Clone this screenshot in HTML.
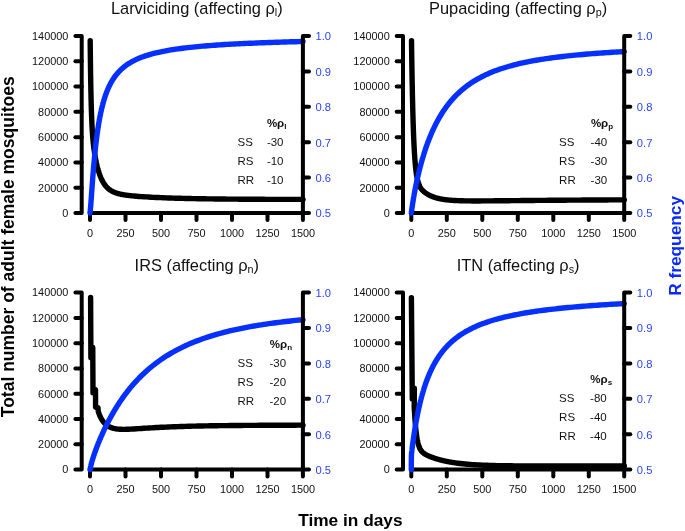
<!DOCTYPE html>
<html><head><meta charset="utf-8"><style>
html,body{margin:0;padding:0;background:#fff;}
svg{display:block;}
text{font-family:"Liberation Sans",sans-serif;}
</style></head><body>
<svg style="will-change:transform" width="685" height="531" viewBox="0 0 685 531" font-family="Liberation Sans, sans-serif">
<rect width="685" height="531" fill="#fff"/>
<g fill="none" stroke="#000" stroke-width="4.0" stroke-linecap="round" stroke-linejoin="round">
<path d="M75.4,36 H81.7 V213 H75.4"/>
<path d="M75.4,61.29 H81.7"/>
<path d="M75.4,86.57 H81.7"/>
<path d="M75.4,111.86 H81.7"/>
<path d="M75.4,137.14 H81.7"/>
<path d="M75.4,162.43 H81.7"/>
<path d="M75.4,187.71 H81.7"/>
<path d="M90,220 V213 H303"/>
<path d="M125.5,213 V220"/>
<path d="M161,213 V220"/>
<path d="M196.5,213 V220"/>
<path d="M232,213 V220"/>
<path d="M267.5,213 V220"/>
</g>
<g font-size="10.9" fill="#111" text-anchor="end">
<text x="68.4" y="216.8">0</text>
<text x="68.4" y="191.51">20000</text>
<text x="68.4" y="166.23">40000</text>
<text x="68.4" y="140.94">60000</text>
<text x="68.4" y="115.66">80000</text>
<text x="68.4" y="90.37">100000</text>
<text x="68.4" y="65.09">120000</text>
<text x="68.4" y="39.8">140000</text>
</g>
<g font-size="10.9" fill="#111" text-anchor="middle">
<text x="90" y="237">0</text>
<text x="125.5" y="237">250</text>
<text x="161" y="237">500</text>
<text x="196.5" y="237">750</text>
<text x="232" y="237">1000</text>
<text x="267.5" y="237">1250</text>
<text x="303" y="237">1500</text>
</g>
<g font-size="11.2" fill="#2a44ff">
<text x="315.5" y="217.3">0.5</text>
<text x="315.5" y="181.9">0.6</text>
<text x="315.5" y="146.5">0.7</text>
<text x="315.5" y="111.1">0.8</text>
<text x="315.5" y="75.7">0.9</text>
<text x="315.5" y="40.3">1.0</text>
</g>
<text x="196.8" y="13.9" font-size="16.4" text-anchor="middle" fill="#111">Larviciding (affecting &#961;<tspan font-size="10.824" dy="2.3">l</tspan><tspan dy="-2.3">)</tspan></text>
<text x="266.9" y="127.4" font-size="11.5" font-weight="bold" fill="#111">%&#961;<tspan font-size="8.049999999999999" dy="2">l</tspan></text>
<text x="237.5" y="145.8" font-size="11.5" fill="#111">SS</text>
<text x="266.9" y="145.8" font-size="11.5" fill="#111">-30</text>
<text x="237.5" y="164.5" font-size="11.5" fill="#111">RS</text>
<text x="266.9" y="164.5" font-size="11.5" fill="#111">-10</text>
<text x="237.5" y="183.7" font-size="11.5" fill="#111">RR</text>
<text x="266.9" y="183.7" font-size="11.5" fill="#111">-10</text>
<g fill="none" stroke="#000" stroke-width="4.0" stroke-linecap="round" stroke-linejoin="round">
<path d="M396.7,36 H403 V213 H396.7"/>
<path d="M396.7,61.29 H403"/>
<path d="M396.7,86.57 H403"/>
<path d="M396.7,111.86 H403"/>
<path d="M396.7,137.14 H403"/>
<path d="M396.7,162.43 H403"/>
<path d="M396.7,187.71 H403"/>
<path d="M411.3,220 V213 H624.3"/>
<path d="M446.8,213 V220"/>
<path d="M482.3,213 V220"/>
<path d="M517.8,213 V220"/>
<path d="M553.3,213 V220"/>
<path d="M588.8,213 V220"/>
</g>
<g font-size="10.9" fill="#111" text-anchor="end">
<text x="389.7" y="216.8">0</text>
<text x="389.7" y="191.51">20000</text>
<text x="389.7" y="166.23">40000</text>
<text x="389.7" y="140.94">60000</text>
<text x="389.7" y="115.66">80000</text>
<text x="389.7" y="90.37">100000</text>
<text x="389.7" y="65.09">120000</text>
<text x="389.7" y="39.8">140000</text>
</g>
<g font-size="10.9" fill="#111" text-anchor="middle">
<text x="411.3" y="237">0</text>
<text x="446.8" y="237">250</text>
<text x="482.3" y="237">500</text>
<text x="517.8" y="237">750</text>
<text x="553.3" y="237">1000</text>
<text x="588.8" y="237">1250</text>
<text x="624.3" y="237">1500</text>
</g>
<g font-size="11.2" fill="#2a44ff">
<text x="636.8" y="217.3">0.5</text>
<text x="636.8" y="181.9">0.6</text>
<text x="636.8" y="146.5">0.7</text>
<text x="636.8" y="111.1">0.8</text>
<text x="636.8" y="75.7">0.9</text>
<text x="636.8" y="40.3">1.0</text>
</g>
<text x="518.1" y="13.9" font-size="16.4" text-anchor="middle" fill="#111">Pupaciding (affecting &#961;<tspan font-size="10.824" dy="2.3">p</tspan><tspan dy="-2.3">)</tspan></text>
<text x="590.9" y="127.4" font-size="11.5" font-weight="bold" fill="#111">%&#961;<tspan font-size="8.049999999999999" dy="2">p</tspan></text>
<text x="559.1" y="145.8" font-size="11.5" fill="#111">SS</text>
<text x="590.6" y="145.8" font-size="11.5" fill="#111">-40</text>
<text x="559.1" y="164.5" font-size="11.5" fill="#111">RS</text>
<text x="590.6" y="164.5" font-size="11.5" fill="#111">-30</text>
<text x="559.1" y="183.7" font-size="11.5" fill="#111">RR</text>
<text x="590.6" y="183.7" font-size="11.5" fill="#111">-30</text>
<g fill="none" stroke="#000" stroke-width="4.0" stroke-linecap="round" stroke-linejoin="round">
<path d="M75.4,292.6 H81.7 V469.6 H75.4"/>
<path d="M75.4,317.89 H81.7"/>
<path d="M75.4,343.17 H81.7"/>
<path d="M75.4,368.46 H81.7"/>
<path d="M75.4,393.74 H81.7"/>
<path d="M75.4,419.03 H81.7"/>
<path d="M75.4,444.31 H81.7"/>
<path d="M90,476.6 V469.6 H303"/>
<path d="M125.5,469.6 V476.6"/>
<path d="M161,469.6 V476.6"/>
<path d="M196.5,469.6 V476.6"/>
<path d="M232,469.6 V476.6"/>
<path d="M267.5,469.6 V476.6"/>
</g>
<g font-size="10.9" fill="#111" text-anchor="end">
<text x="68.4" y="473.4">0</text>
<text x="68.4" y="448.11">20000</text>
<text x="68.4" y="422.83">40000</text>
<text x="68.4" y="397.54">60000</text>
<text x="68.4" y="372.26">80000</text>
<text x="68.4" y="346.97">100000</text>
<text x="68.4" y="321.69">120000</text>
<text x="68.4" y="296.4">140000</text>
</g>
<g font-size="10.9" fill="#111" text-anchor="middle">
<text x="90" y="492.9">0</text>
<text x="125.5" y="492.9">250</text>
<text x="161" y="492.9">500</text>
<text x="196.5" y="492.9">750</text>
<text x="232" y="492.9">1000</text>
<text x="267.5" y="492.9">1250</text>
<text x="303" y="492.9">1500</text>
</g>
<g font-size="11.2" fill="#2a44ff">
<text x="315.5" y="473.9">0.5</text>
<text x="315.5" y="438.5">0.6</text>
<text x="315.5" y="403.1">0.7</text>
<text x="315.5" y="367.7">0.8</text>
<text x="315.5" y="332.3">0.9</text>
<text x="315.5" y="296.9">1.0</text>
</g>
<text x="196.8" y="270.5" font-size="16.4" text-anchor="middle" fill="#111">IRS (affecting &#961;<tspan font-size="10.824" dy="2.3">n</tspan><tspan dy="-2.3">)</tspan></text>
<text x="269.8" y="348.4" font-size="11.5" font-weight="bold" fill="#111">%&#961;<tspan font-size="8.049999999999999" dy="2">n</tspan></text>
<text x="237.5" y="367.1" font-size="11.5" fill="#111">SS</text>
<text x="269.5" y="367.1" font-size="11.5" fill="#111">-30</text>
<text x="237.5" y="386" font-size="11.5" fill="#111">RS</text>
<text x="269.5" y="386" font-size="11.5" fill="#111">-20</text>
<text x="237.5" y="404.9" font-size="11.5" fill="#111">RR</text>
<text x="269.5" y="404.9" font-size="11.5" fill="#111">-20</text>
<g fill="none" stroke="#000" stroke-width="4.0" stroke-linecap="round" stroke-linejoin="round">
<path d="M396.7,292.6 H403 V469.6 H396.7"/>
<path d="M396.7,317.89 H403"/>
<path d="M396.7,343.17 H403"/>
<path d="M396.7,368.46 H403"/>
<path d="M396.7,393.74 H403"/>
<path d="M396.7,419.03 H403"/>
<path d="M396.7,444.31 H403"/>
<path d="M411.3,476.6 V469.6 H624.3"/>
<path d="M446.8,469.6 V476.6"/>
<path d="M482.3,469.6 V476.6"/>
<path d="M517.8,469.6 V476.6"/>
<path d="M553.3,469.6 V476.6"/>
<path d="M588.8,469.6 V476.6"/>
</g>
<g font-size="10.9" fill="#111" text-anchor="end">
<text x="389.7" y="473.4">0</text>
<text x="389.7" y="448.11">20000</text>
<text x="389.7" y="422.83">40000</text>
<text x="389.7" y="397.54">60000</text>
<text x="389.7" y="372.26">80000</text>
<text x="389.7" y="346.97">100000</text>
<text x="389.7" y="321.69">120000</text>
<text x="389.7" y="296.4">140000</text>
</g>
<g font-size="10.9" fill="#111" text-anchor="middle">
<text x="411.3" y="492.9">0</text>
<text x="446.8" y="492.9">250</text>
<text x="482.3" y="492.9">500</text>
<text x="517.8" y="492.9">750</text>
<text x="553.3" y="492.9">1000</text>
<text x="588.8" y="492.9">1250</text>
<text x="624.3" y="492.9">1500</text>
</g>
<g font-size="11.2" fill="#2a44ff">
<text x="636.8" y="473.9">0.5</text>
<text x="636.8" y="438.5">0.6</text>
<text x="636.8" y="403.1">0.7</text>
<text x="636.8" y="367.7">0.8</text>
<text x="636.8" y="332.3">0.9</text>
<text x="636.8" y="296.9">1.0</text>
</g>
<text x="518.1" y="270.5" font-size="16.4" text-anchor="middle" fill="#111">ITN (affecting &#961;<tspan font-size="10.824" dy="2.3">s</tspan><tspan dy="-2.3">)</tspan></text>
<text x="590.3" y="383.2" font-size="11.5" font-weight="bold" fill="#111">%&#961;<tspan font-size="8.049999999999999" dy="2">s</tspan></text>
<text x="559.1" y="402.4" font-size="11.5" fill="#111">SS</text>
<text x="590.1" y="402.4" font-size="11.5" fill="#111">-80</text>
<text x="559.1" y="421.3" font-size="11.5" fill="#111">RS</text>
<text x="590.1" y="421.3" font-size="11.5" fill="#111">-40</text>
<text x="559.1" y="440" font-size="11.5" fill="#111">RR</text>
<text x="590.1" y="440" font-size="11.5" fill="#111">-40</text>
<path d="M90.2,40.6 L90.2,42.38 L90.23,45.07 L90.26,47.69 L90.28,50.23 L90.33,53.91 L90.37,57.44 L90.41,60.82 L90.45,64.06 L90.5,67.17 L90.54,70.15 L90.58,73.01 L90.62,75.75 L90.67,78.39 L90.71,80.92 L90.75,83.34 L90.8,85.67 L90.84,87.91 L90.88,90.07 L90.92,92.14 L90.97,94.13 L91.01,96.04 L91.05,97.88 L91.09,99.65 L91.14,101.36 L91.18,103 L91.22,104.58 L91.26,106.1 L91.31,107.57 L91.35,108.99 L91.39,110.36 L91.43,111.67 L91.48,112.95 L91.52,114.18 L91.56,115.36 L91.6,116.51 L91.65,117.62 L91.69,118.69 L91.73,119.73 L91.78,120.73 L91.82,121.71 L91.86,122.65 L91.9,123.56 L91.95,124.45 L91.99,125.3 L92.03,126.14 L92.07,126.95 L92.12,127.73 L92.16,128.49 L92.2,129.23 L92.24,129.96 L92.29,130.66 L92.33,131.34 L92.37,132 L92.41,132.65 L92.46,133.28 L92.5,133.9 L92.54,134.5 L92.58,135.08 L92.63,135.65 L92.67,136.21 L92.71,136.76 L92.75,137.29 L92.8,137.81 L92.84,138.32 L92.91,139.14 L93.01,140.3 L93.12,141.4 L93.22,142.45 L93.33,143.45 L93.43,144.41 L93.53,145.34 L93.64,146.23 L93.74,147.08 L93.84,147.91 L93.95,148.71 L94.05,149.49 L94.15,150.24 L94.26,150.97 L94.36,151.68 L94.46,152.37 L94.57,153.05 L94.67,153.71 L94.78,154.35 L94.88,154.98 L94.98,155.59 L95.09,156.19 L95.19,156.78 L95.29,157.35 L95.4,157.92 L95.5,158.47 L95.6,159.01 L95.71,159.54 L95.81,160.07 L95.91,160.58 L96.02,161.09 L96.12,161.58 L96.23,162.07 L96.33,162.55 L96.43,163.02 L96.54,163.48 L96.64,163.94 L96.74,164.39 L96.85,164.83 L96.95,165.26 L97.05,165.69 L97.16,166.11 L97.26,166.52 L97.36,166.93 L97.47,167.33 L97.57,167.73 L97.68,168.12 L97.78,168.5 L97.88,168.88 L97.99,169.25 L98.09,169.61 L98.19,169.98 L98.3,170.33 L98.4,170.68 L98.5,171.02 L98.61,171.36 L98.71,171.7 L98.92,172.35 L99.13,172.99 L99.33,173.61 L99.54,174.2 L99.75,174.78 L99.95,175.35 L100.16,175.9 L100.37,176.43 L100.58,176.95 L100.78,177.45 L100.99,177.94 L101.2,178.41 L101.4,178.87 L101.61,179.32 L101.82,179.75 L102.03,180.17 L102.23,180.58 L102.44,180.98 L102.65,181.37 L102.85,181.74 L103.06,182.11 L103.27,182.46 L103.48,182.81 L103.68,183.14 L103.89,183.47 L104.1,183.79 L104.48,184.36 L104.84,184.85 L105.2,185.33 L105.55,185.78 L105.91,186.21 L106.26,186.62 L106.62,187.01 L106.98,187.39 L107.33,187.74 L107.69,188.08 L108.04,188.41 L108.4,188.72 L108.75,189.01 L109.11,189.3 L109.47,189.57 L109.82,189.83 L110.18,190.07 L110.53,190.31 L110.89,190.54 L111.25,190.75 L111.6,190.96 L111.96,191.16 L112.31,191.35 L112.67,191.53 L113.03,191.7 L113.38,191.87 L113.74,192.03 L114.09,192.19 L114.45,192.34 L114.81,192.48 L115.16,192.62 L115.52,192.75 L115.87,192.87 L116.23,193 L116.58,193.11 L116.94,193.23 L117.3,193.33 L117.65,193.44 L118.01,193.54 L118.36,193.64 L118.72,193.73 L119.08,193.82 L119.43,193.91 L119.79,194 L120.14,194.08 L120.5,194.16 L120.86,194.24 L121.21,194.31 L121.57,194.38 L121.92,194.45 L122.28,194.52 L122.63,194.59 L122.99,194.65 L123.35,194.71 L123.7,194.78 L124.06,194.83 L124.41,194.89 L124.77,194.95 L125.13,195 L125.48,195.06 L125.84,195.11 L126.19,195.16 L126.55,195.21 L126.91,195.26 L127.26,195.3 L127.62,195.35 L127.97,195.39 L128.33,195.44 L128.69,195.48 L129.04,195.52 L129.4,195.56 L129.75,195.6 L130.11,195.64 L130.46,195.68 L130.82,195.72 L131.18,195.76 L131.53,195.8 L131.89,195.83 L132.24,195.87 L132.6,195.9 L134.02,196.04 L136.47,196.25 L138.92,196.44 L141.37,196.62 L143.82,196.78 L146.26,196.93 L148.71,197.07 L151.16,197.2 L153.61,197.33 L156.06,197.45 L158.51,197.56 L160.96,197.66 L163.41,197.76 L165.86,197.85 L168.31,197.94 L170.75,198.02 L173.2,198.1 L175.65,198.18 L178.1,198.25 L180.55,198.32 L183,198.38 L185.45,198.44 L187.9,198.5 L190.35,198.55 L192.8,198.6 L195.24,198.65 L197.69,198.69 L200.14,198.74 L202.59,198.78 L205.04,198.82 L207.49,198.85 L209.94,198.89 L212.39,198.92 L214.84,198.95 L217.29,198.98 L219.73,199.01 L222.18,199.04 L224.63,199.06 L227.08,199.08 L229.53,199.11 L231.98,199.13 L234.43,199.15 L236.88,199.17 L239.33,199.19 L241.78,199.2 L244.22,199.22 L246.67,199.23 L249.12,199.25 L251.57,199.26 L254.02,199.27 L256.47,199.29 L258.92,199.3 L261.37,199.31 L263.82,199.32 L266.27,199.33 L268.71,199.34 L271.16,199.35 L273.61,199.36 L276.06,199.36 L278.51,199.37 L280.96,199.38 L283.41,199.39 L285.86,199.39 L288.31,199.4 L290.76,199.4 L293.2,199.41 L295.65,199.41 L298.1,199.42 L300.55,199.42 L303,199.43" fill="none" stroke="#000" stroke-width="5.4" stroke-linecap="round" stroke-linejoin="round"/>
<path d="M90,213 L90.09,212.52 L90.14,212.07 L90.2,211.55 L90.26,211 L90.33,210.25 L90.37,209.78 L90.41,209.3 L90.45,208.81 L90.5,208.3 L90.54,207.78 L90.58,207.26 L90.62,206.72 L90.67,206.18 L90.71,205.64 L90.75,205.08 L90.8,204.52 L90.84,203.96 L90.88,203.39 L90.92,202.82 L90.97,202.24 L91.01,201.66 L91.05,201.08 L91.09,200.5 L91.14,199.91 L91.18,199.32 L91.22,198.73 L91.26,198.14 L91.31,197.55 L91.35,196.95 L91.39,196.36 L91.43,195.76 L91.48,195.17 L91.52,194.57 L91.56,193.98 L91.6,193.38 L91.65,192.79 L91.69,192.2 L91.73,191.6 L91.78,191.01 L91.82,190.42 L91.86,189.83 L91.9,189.24 L91.95,188.65 L91.99,188.06 L92.03,187.48 L92.07,186.89 L92.12,186.31 L92.16,185.73 L92.2,185.15 L92.24,184.57 L92.29,183.99 L92.33,183.42 L92.37,182.85 L92.41,182.28 L92.46,181.71 L92.5,181.15 L92.54,180.58 L92.58,180.02 L92.63,179.46 L92.67,178.9 L92.71,178.35 L92.75,177.8 L92.8,177.25 L92.84,176.7 L92.91,175.79 L93.01,174.48 L93.12,173.19 L93.22,171.91 L93.33,170.64 L93.43,169.39 L93.53,168.15 L93.64,166.93 L93.74,165.73 L93.84,164.54 L93.95,163.37 L94.05,162.21 L94.15,161.07 L94.26,159.94 L94.36,158.83 L94.46,157.73 L94.57,156.65 L94.67,155.58 L94.78,154.53 L94.88,153.49 L94.98,152.47 L95.09,151.46 L95.19,150.47 L95.29,149.48 L95.4,148.52 L95.5,147.56 L95.6,146.62 L95.71,145.69 L95.81,144.78 L95.91,143.88 L96.02,142.99 L96.12,142.11 L96.23,141.24 L96.33,140.39 L96.43,139.55 L96.54,138.72 L96.64,137.9 L96.74,137.09 L96.85,136.3 L96.95,135.51 L97.05,134.74 L97.16,133.97 L97.26,133.22 L97.36,132.47 L97.47,131.74 L97.57,131.02 L97.68,130.3 L97.78,129.6 L97.88,128.9 L97.99,128.22 L98.09,127.54 L98.19,126.87 L98.3,126.21 L98.4,125.56 L98.5,124.92 L98.61,124.28 L98.71,123.66 L98.81,123.04 L98.92,122.43 L99.02,121.83 L99.13,121.23 L99.23,120.64 L99.33,120.06 L99.44,119.49 L99.54,118.93 L99.64,118.37 L99.75,117.82 L99.85,117.27 L99.95,116.73 L100.06,116.2 L100.16,115.68 L100.26,115.16 L100.37,114.64 L100.47,114.14 L100.58,113.64 L100.68,113.14 L100.78,112.65 L100.89,112.17 L100.99,111.69 L101.09,111.22 L101.2,110.76 L101.3,110.29 L101.4,109.84 L101.51,109.39 L101.61,108.94 L101.71,108.5 L101.82,108.07 L101.92,107.64 L102.03,107.21 L102.13,106.79 L102.23,106.38 L102.34,105.96 L102.44,105.56 L102.54,105.16 L102.65,104.76 L102.75,104.36 L102.85,103.97 L102.96,103.59 L103.06,103.21 L103.16,102.83 L103.27,102.46 L103.37,102.09 L103.48,101.72 L103.58,101.36 L103.68,101 L103.79,100.65 L103.89,100.3 L103.99,99.95 L104.1,99.61 L104.2,99.27 L104.48,98.36 L104.84,97.25 L105.2,96.17 L105.55,95.14 L105.91,94.13 L106.26,93.16 L106.62,92.22 L106.98,91.31 L107.33,90.43 L107.69,89.57 L108.04,88.74 L108.4,87.94 L108.75,87.16 L109.11,86.4 L109.47,85.66 L109.82,84.94 L110.18,84.25 L110.53,83.57 L110.89,82.91 L111.25,82.27 L111.6,81.64 L111.96,81.03 L112.31,80.44 L112.67,79.86 L113.03,79.3 L113.38,78.75 L113.74,78.21 L114.09,77.69 L114.45,77.18 L114.81,76.68 L115.16,76.2 L115.52,75.72 L115.87,75.26 L116.23,74.81 L116.58,74.36 L116.94,73.93 L117.3,73.51 L117.65,73.09 L118.01,72.69 L118.36,72.29 L118.72,71.9 L119.08,71.52 L119.43,71.15 L119.79,70.78 L120.14,70.43 L120.5,70.08 L120.86,69.73 L121.21,69.4 L121.57,69.07 L121.92,68.74 L122.28,68.43 L122.63,68.11 L122.99,67.81 L123.35,67.51 L123.7,67.22 L124.06,66.93 L124.41,66.64 L124.77,66.36 L125.13,66.09 L125.48,65.82 L125.84,65.56 L126.19,65.3 L126.55,65.05 L126.91,64.8 L127.26,64.55 L127.62,64.31 L127.97,64.07 L128.33,63.84 L128.69,63.61 L129.04,63.38 L129.4,63.16 L129.75,62.94 L130.11,62.72 L130.46,62.51 L130.82,62.3 L131.18,62.1 L131.53,61.89 L131.89,61.69 L132.24,61.5 L132.6,61.3 L134.02,60.56 L136.47,59.38 L138.92,58.3 L141.37,57.32 L143.82,56.42 L146.26,55.6 L148.71,54.84 L151.16,54.13 L153.61,53.48 L156.06,52.87 L158.51,52.3 L160.96,51.78 L163.41,51.28 L165.86,50.81 L168.31,50.37 L170.75,49.96 L173.2,49.57 L175.65,49.2 L178.1,48.85 L180.55,48.52 L183,48.21 L185.45,47.91 L187.9,47.63 L190.35,47.35 L192.8,47.1 L195.24,46.85 L197.69,46.61 L200.14,46.39 L202.59,46.17 L205.04,45.96 L207.49,45.76 L209.94,45.57 L212.39,45.39 L214.84,45.21 L217.29,45.04 L219.73,44.88 L222.18,44.72 L224.63,44.56 L227.08,44.42 L229.53,44.27 L231.98,44.14 L234.43,44 L236.88,43.87 L239.33,43.75 L241.78,43.63 L244.22,43.51 L246.67,43.4 L249.12,43.29 L251.57,43.18 L254.02,43.08 L256.47,42.98 L258.92,42.88 L261.37,42.78 L263.82,42.69 L266.27,42.6 L268.71,42.51 L271.16,42.43 L273.61,42.35 L276.06,42.27 L278.51,42.19 L280.96,42.11 L283.41,42.03 L285.86,41.96 L288.31,41.89 L290.76,41.82 L293.2,41.75 L295.65,41.69 L298.1,41.62 L300.55,41.56 L303,41.49" fill="none" stroke="#0530ff" stroke-width="5.4" stroke-linecap="round" stroke-linejoin="round"/>
<path d="M411.53,40.7 L411.53,42.37 L411.56,44.43 L411.58,46.46 L411.63,49.45 L411.67,52.37 L411.71,55.23 L411.75,58.02 L411.8,60.76 L411.84,63.43 L411.88,66.05 L411.92,68.61 L411.97,71.11 L412.01,73.56 L412.05,75.96 L412.1,78.3 L412.14,80.59 L412.18,82.84 L412.22,85.03 L412.27,87.18 L412.31,89.28 L412.35,91.33 L412.39,93.34 L412.44,95.3 L412.48,97.23 L412.52,99.11 L412.56,100.95 L412.61,102.75 L412.65,104.51 L412.69,106.24 L412.73,107.93 L412.78,109.58 L412.82,111.19 L412.86,112.77 L412.9,114.32 L412.95,115.83 L412.99,117.31 L413.03,118.76 L413.07,120.18 L413.12,121.57 L413.16,122.92 L413.2,124.25 L413.25,125.55 L413.29,126.83 L413.33,128.07 L413.37,129.29 L413.42,130.49 L413.46,131.65 L413.5,132.8 L413.54,133.92 L413.59,135.01 L413.63,136.08 L413.67,137.13 L413.71,138.16 L413.76,139.17 L413.8,140.15 L413.84,141.11 L413.88,142.06 L413.93,142.98 L413.97,143.89 L414.01,144.77 L414.05,145.64 L414.1,146.49 L414.14,147.32 L414.21,148.67 L414.31,150.55 L414.42,152.34 L414.52,154.04 L414.63,155.66 L414.73,157.19 L414.83,158.66 L414.94,160.05 L415.04,161.37 L415.14,162.64 L415.25,163.84 L415.35,164.98 L415.45,166.07 L415.56,167.11 L415.66,168.1 L415.76,169.04 L415.87,169.94 L415.97,170.8 L416.08,171.62 L416.18,172.4 L416.28,173.14 L416.39,173.86 L416.49,174.54 L416.59,175.19 L416.7,175.81 L416.8,176.41 L416.9,176.98 L417.01,177.53 L417.11,178.05 L417.21,178.55 L417.32,179.03 L417.42,179.49 L417.53,179.94 L417.63,180.36 L417.73,180.77 L417.84,181.16 L417.94,181.54 L418.04,181.9 L418.15,182.25 L418.25,182.59 L418.46,183.22 L418.66,183.81 L418.87,184.37 L419.08,184.88 L419.29,185.36 L419.49,185.82 L419.7,186.24 L419.91,186.64 L420.11,187.02 L420.32,187.38 L420.53,187.72 L420.74,188.04 L420.94,188.35 L421.15,188.64 L421.46,189.06 L421.77,189.45 L422.08,189.82 L422.39,190.16 L422.7,190.49 L423.01,190.81 L423.33,191.11 L423.64,191.4 L423.95,191.67 L424.26,191.93 L424.57,192.19 L424.88,192.43 L425.19,192.67 L425.5,192.9 L426.14,193.34 L426.5,193.58 L426.85,193.81 L427.21,194.03 L427.56,194.24 L427.92,194.45 L428.28,194.65 L428.63,194.85 L428.99,195.04 L429.34,195.22 L429.7,195.4 L430.05,195.57 L430.41,195.73 L430.77,195.9 L431.12,196.05 L431.48,196.21 L431.83,196.35 L432.19,196.5 L432.55,196.64 L432.9,196.77 L433.26,196.9 L433.61,197.03 L433.97,197.16 L434.33,197.28 L434.68,197.39 L435.04,197.51 L435.39,197.62 L435.75,197.73 L436.11,197.83 L436.46,197.93 L436.82,198.03 L437.17,198.12 L437.53,198.22 L437.88,198.31 L438.24,198.39 L438.6,198.48 L438.95,198.56 L439.31,198.64 L439.66,198.72 L440.02,198.79 L440.38,198.86 L440.73,198.94 L441.09,199 L441.44,199.07 L441.8,199.13 L442.16,199.2 L442.51,199.26 L442.87,199.32 L443.22,199.37 L443.58,199.43 L443.93,199.48 L444.29,199.54 L444.65,199.59 L445,199.64 L445.36,199.68 L445.71,199.73 L446.07,199.77 L446.43,199.82 L446.78,199.86 L447.14,199.9 L447.49,199.94 L447.85,199.98 L448.21,200.01 L448.56,200.05 L448.92,200.08 L449.27,200.12 L449.63,200.15 L449.99,200.18 L450.34,200.21 L450.7,200.24 L451.05,200.27 L451.41,200.3 L451.76,200.32 L452.12,200.35 L452.48,200.37 L452.83,200.4 L453.19,200.42 L453.54,200.44 L453.9,200.47 L455.32,200.55 L457.77,200.66 L460.22,200.75 L462.67,200.81 L465.12,200.86 L467.56,200.89 L470.01,200.92 L472.46,200.93 L474.91,200.93 L477.36,200.93 L479.81,200.93 L482.26,200.92 L484.71,200.9 L487.16,200.88 L489.61,200.87 L492.05,200.85 L494.5,200.82 L496.95,200.8 L499.4,200.78 L501.85,200.75 L504.3,200.73 L506.75,200.7 L509.2,200.68 L511.65,200.66 L514.1,200.63 L516.54,200.61 L518.99,200.58 L521.44,200.56 L523.89,200.54 L526.34,200.51 L528.79,200.49 L531.24,200.47 L533.69,200.44 L536.14,200.42 L538.59,200.4 L541.03,200.38 L543.48,200.36 L545.93,200.34 L548.38,200.32 L550.83,200.3 L553.28,200.28 L555.73,200.26 L558.18,200.24 L560.63,200.22 L563.08,200.2 L565.52,200.19 L567.97,200.17 L570.42,200.15 L572.87,200.13 L575.32,200.12 L577.77,200.1 L580.22,200.08 L582.67,200.07 L585.12,200.05 L587.57,200.04 L590.01,200.02 L592.46,200.01 L594.91,199.99 L597.36,199.98 L599.81,199.97 L602.26,199.95 L604.71,199.94 L607.16,199.93 L609.61,199.91 L612.06,199.9 L614.5,199.89 L616.95,199.88 L619.4,199.86 L621.85,199.85 L624.3,199.84" fill="none" stroke="#000" stroke-width="5.4" stroke-linecap="round" stroke-linejoin="round"/>
<path d="M411.3,213 L411.36,212.57 L411.41,212.15 L411.47,211.73 L411.53,211.31 L411.58,210.9 L411.67,210.28 L411.75,209.67 L411.84,209.07 L411.92,208.48 L412.01,207.89 L412.1,207.3 L412.18,206.72 L412.27,206.15 L412.35,205.58 L412.44,205.02 L412.52,204.46 L412.61,203.91 L412.69,203.36 L412.78,202.82 L412.86,202.28 L412.95,201.75 L413.03,201.22 L413.12,200.7 L413.2,200.17 L413.29,199.66 L413.37,199.15 L413.46,198.64 L413.54,198.13 L413.63,197.63 L413.71,197.14 L413.8,196.64 L413.88,196.15 L413.97,195.67 L414.05,195.18 L414.14,194.7 L414.21,194.31 L414.31,193.73 L414.42,193.16 L414.52,192.6 L414.63,192.03 L414.73,191.48 L414.83,190.93 L414.94,190.38 L415.04,189.83 L415.14,189.29 L415.25,188.76 L415.35,188.23 L415.45,187.7 L415.56,187.18 L415.66,186.66 L415.76,186.14 L415.87,185.63 L415.97,185.12 L416.08,184.61 L416.18,184.11 L416.28,183.61 L416.39,183.12 L416.49,182.63 L416.59,182.14 L416.7,181.65 L416.8,181.17 L416.9,180.69 L417.01,180.21 L417.11,179.74 L417.21,179.27 L417.32,178.8 L417.42,178.34 L417.53,177.88 L417.63,177.42 L417.73,176.97 L417.84,176.51 L417.94,176.06 L418.04,175.62 L418.15,175.17 L418.25,174.73 L418.35,174.29 L418.46,173.85 L418.56,173.42 L418.66,172.99 L418.77,172.56 L418.87,172.13 L418.98,171.71 L419.08,171.29 L419.18,170.87 L419.29,170.45 L419.39,170.04 L419.49,169.62 L419.6,169.21 L419.7,168.81 L419.8,168.4 L419.91,168 L420.01,167.6 L420.11,167.2 L420.22,166.8 L420.32,166.41 L420.43,166.01 L420.53,165.62 L420.63,165.24 L420.74,164.85 L420.84,164.47 L420.94,164.08 L421.05,163.7 L421.15,163.33 L421.25,162.95 L421.36,162.57 L421.46,162.2 L421.56,161.83 L421.67,161.46 L421.77,161.1 L421.88,160.73 L421.98,160.37 L422.08,160.01 L422.19,159.65 L422.29,159.29 L422.39,158.94 L422.5,158.58 L422.6,158.23 L422.7,157.88 L422.81,157.53 L422.91,157.18 L423.01,156.84 L423.12,156.49 L423.22,156.15 L423.33,155.81 L423.43,155.47 L423.53,155.14 L423.64,154.8 L423.84,154.13 L424.05,153.48 L424.26,152.82 L424.46,152.17 L424.67,151.53 L424.88,150.9 L425.09,150.27 L425.29,149.65 L425.5,149.03 L425.78,148.19 L426.14,147.15 L426.5,146.13 L426.85,145.13 L427.21,144.14 L427.56,143.17 L427.92,142.21 L428.28,141.26 L428.63,140.33 L428.99,139.41 L429.34,138.51 L429.7,137.62 L430.05,136.74 L430.41,135.87 L430.77,135.02 L431.12,134.18 L431.48,133.35 L431.83,132.53 L432.19,131.72 L432.55,130.92 L432.9,130.14 L433.26,129.36 L433.61,128.6 L433.97,127.85 L434.33,127.1 L434.68,126.37 L435.04,125.64 L435.39,124.93 L435.75,124.22 L436.11,123.53 L436.46,122.84 L436.82,122.16 L437.17,121.49 L437.53,120.83 L437.88,120.18 L438.24,119.54 L438.6,118.9 L438.95,118.27 L439.31,117.65 L439.66,117.04 L440.02,116.43 L440.38,115.84 L440.73,115.25 L441.09,114.66 L441.44,114.09 L441.8,113.52 L442.16,112.96 L442.51,112.4 L442.87,111.85 L443.22,111.31 L443.58,110.78 L443.93,110.25 L444.29,109.72 L444.65,109.21 L445,108.7 L445.36,108.19 L445.71,107.69 L446.07,107.2 L446.43,106.71 L446.78,106.23 L447.14,105.75 L447.49,105.28 L447.85,104.82 L448.21,104.36 L448.56,103.9 L448.92,103.45 L449.27,103.01 L449.63,102.57 L449.99,102.13 L450.34,101.7 L450.7,101.27 L451.05,100.85 L451.41,100.44 L451.76,100.03 L452.12,99.62 L452.48,99.22 L452.83,98.82 L453.19,98.42 L453.54,98.03 L453.9,97.65 L455.32,96.15 L457.77,93.71 L460.22,91.43 L462.67,89.31 L465.12,87.33 L467.56,85.47 L470.01,83.74 L472.46,82.11 L474.91,80.58 L477.36,79.14 L479.81,77.78 L482.26,76.51 L484.71,75.3 L487.16,74.16 L489.61,73.09 L492.05,72.07 L494.5,71.1 L496.95,70.19 L499.4,69.32 L501.85,68.5 L504.3,67.71 L506.75,66.97 L509.2,66.26 L511.65,65.58 L514.1,64.93 L516.54,64.32 L518.99,63.73 L521.44,63.16 L523.89,62.63 L526.34,62.11 L528.79,61.62 L531.24,61.15 L533.69,60.69 L536.14,60.26 L538.59,59.84 L541.03,59.44 L543.48,59.05 L545.93,58.68 L548.38,58.33 L550.83,57.98 L553.28,57.65 L555.73,57.34 L558.18,57.03 L560.63,56.73 L563.08,56.45 L565.52,56.17 L567.97,55.9 L570.42,55.65 L572.87,55.4 L575.32,55.16 L577.77,54.92 L580.22,54.7 L582.67,54.48 L585.12,54.27 L587.57,54.06 L590.01,53.86 L592.46,53.67 L594.91,53.48 L597.36,53.3 L599.81,53.12 L602.26,52.95 L604.71,52.79 L607.16,52.62 L609.61,52.47 L612.06,52.31 L614.5,52.17 L616.95,52.02 L619.4,51.88 L621.85,51.74 L624.3,51.61" fill="none" stroke="#0530ff" stroke-width="5.4" stroke-linecap="round" stroke-linejoin="round"/>
<path d="M90.6,297.5 L90.9,357.8 L92.75,347.5 L93,392.7 L95.5,389.7 L95.6,407.3 L98,407.6 L98.19,411.04 L98.3,411.37 L98.5,412.03 L98.71,412.65 L98.92,413.25 L99.13,413.82 L99.33,414.37 L99.54,414.9 L99.75,415.4 L99.95,415.89 L100.16,416.35 L100.37,416.8 L100.58,417.23 L100.78,417.65 L100.99,418.05 L101.2,418.44 L101.4,418.81 L101.61,419.17 L101.82,419.52 L102.03,419.85 L102.23,420.18 L102.44,420.49 L102.65,420.79 L102.85,421.09 L103.06,421.37 L103.37,421.78 L103.68,422.17 L103.99,422.54 L104.48,423.09 L104.84,423.46 L105.2,423.81 L105.55,424.15 L105.91,424.47 L106.26,424.77 L106.62,425.05 L106.98,425.32 L107.33,425.58 L107.69,425.82 L108.04,426.05 L108.4,426.26 L108.75,426.47 L109.11,426.66 L109.47,426.85 L109.82,427.02 L110.18,427.19 L110.53,427.34 L110.89,427.49 L111.25,427.63 L111.6,427.76 L111.96,427.88 L112.31,428 L112.67,428.11 L113.03,428.21 L113.38,428.3 L113.74,428.39 L114.09,428.48 L114.45,428.56 L114.81,428.63 L115.16,428.7 L115.52,428.76 L115.87,428.82 L116.23,428.88 L116.58,428.93 L116.94,428.98 L117.3,429.02 L117.65,429.06 L118.01,429.1 L118.36,429.13 L118.72,429.16 L119.08,429.19 L119.43,429.22 L119.79,429.24 L120.14,429.26 L120.5,429.28 L120.86,429.29 L121.21,429.3 L121.57,429.31 L121.92,429.32 L122.28,429.33 L122.63,429.33 L122.99,429.34 L123.35,429.34 L123.7,429.34 L124.06,429.34 L124.41,429.34 L124.77,429.33 L125.13,429.33 L125.48,429.32 L125.84,429.31 L126.19,429.3 L126.55,429.29 L126.91,429.28 L127.26,429.27 L127.62,429.26 L127.97,429.25 L128.33,429.23 L128.69,429.22 L129.04,429.2 L129.4,429.19 L129.75,429.17 L130.11,429.15 L130.46,429.14 L130.82,429.12 L131.18,429.1 L131.53,429.08 L131.89,429.06 L132.24,429.04 L132.6,429.02 L134.02,428.94 L136.47,428.78 L138.92,428.63 L141.37,428.46 L143.82,428.3 L146.26,428.15 L148.71,427.99 L151.16,427.85 L153.61,427.7 L156.06,427.57 L158.51,427.44 L160.96,427.31 L163.41,427.19 L165.86,427.08 L168.31,426.97 L170.75,426.87 L173.2,426.78 L175.65,426.69 L178.1,426.6 L180.55,426.52 L183,426.44 L185.45,426.37 L187.9,426.3 L190.35,426.23 L192.8,426.17 L195.24,426.11 L197.69,426.05 L200.14,426 L202.59,425.95 L205.04,425.9 L207.49,425.86 L209.94,425.82 L212.39,425.78 L214.84,425.74 L217.29,425.7 L219.73,425.67 L222.18,425.64 L224.63,425.61 L227.08,425.58 L229.53,425.55 L231.98,425.53 L234.43,425.5 L236.88,425.48 L239.33,425.46 L241.78,425.44 L244.22,425.42 L246.67,425.4 L249.12,425.38 L251.57,425.36 L254.02,425.35 L256.47,425.33 L258.92,425.32 L261.37,425.31 L263.82,425.29 L266.27,425.28 L268.71,425.27 L271.16,425.26 L273.61,425.25 L276.06,425.24 L278.51,425.23 L280.96,425.22 L283.41,425.21 L285.86,425.21 L288.31,425.2 L290.76,425.19 L293.2,425.19 L295.65,425.18 L298.1,425.17 L300.55,425.17 L303,425.16" fill="none" stroke="#000" stroke-width="5.4" stroke-linecap="round" stroke-linejoin="round"/>
<path d="M90,469.6 L90.09,469.14 L90.17,468.7 L90.26,468.28 L90.33,467.94 L90.41,467.54 L90.5,467.15 L90.58,466.77 L90.67,466.4 L90.75,466.03 L90.84,465.68 L90.92,465.33 L91.01,464.98 L91.14,464.48 L91.26,463.99 L91.39,463.5 L91.52,463.03 L91.65,462.57 L91.78,462.11 L91.9,461.66 L92.03,461.21 L92.16,460.78 L92.29,460.34 L92.41,459.92 L92.54,459.5 L92.67,459.08 L92.8,458.67 L92.91,458.3 L93.12,457.65 L93.33,457 L93.53,456.37 L93.74,455.74 L93.95,455.12 L94.15,454.5 L94.36,453.9 L94.57,453.3 L94.78,452.7 L94.98,452.12 L95.19,451.53 L95.4,450.96 L95.6,450.38 L95.81,449.82 L96.02,449.26 L96.23,448.7 L96.43,448.14 L96.64,447.6 L96.85,447.05 L97.05,446.51 L97.26,445.97 L97.47,445.44 L97.68,444.91 L97.88,444.39 L98.09,443.86 L98.3,443.35 L98.5,442.83 L98.71,442.32 L98.92,441.81 L99.13,441.31 L99.33,440.8 L99.54,440.3 L99.75,439.81 L99.95,439.32 L100.16,438.83 L100.37,438.34 L100.58,437.85 L100.78,437.37 L100.99,436.89 L101.2,436.42 L101.4,435.95 L101.61,435.47 L101.82,435.01 L102.03,434.54 L102.23,434.08 L102.44,433.62 L102.65,433.16 L102.85,432.7 L103.06,432.25 L103.27,431.8 L103.48,431.35 L103.68,430.91 L103.89,430.46 L104.1,430.02 L104.48,429.2 L104.84,428.46 L105.2,427.72 L105.55,426.99 L105.91,426.26 L106.26,425.54 L106.62,424.82 L106.98,424.12 L107.33,423.41 L107.69,422.72 L108.04,422.03 L108.4,421.34 L108.75,420.66 L109.11,419.99 L109.47,419.32 L109.82,418.66 L110.18,418 L110.53,417.35 L110.89,416.7 L111.25,416.06 L111.6,415.42 L111.96,414.79 L112.31,414.16 L112.67,413.54 L113.03,412.92 L113.38,412.31 L113.74,411.7 L114.09,411.09 L114.45,410.5 L114.81,409.9 L115.16,409.31 L115.52,408.73 L115.87,408.15 L116.23,407.57 L116.58,407 L116.94,406.43 L117.3,405.87 L117.65,405.31 L118.01,404.75 L118.36,404.2 L118.72,403.66 L119.08,403.11 L119.43,402.57 L119.79,402.04 L120.14,401.51 L120.5,400.98 L120.86,400.46 L121.21,399.94 L121.57,399.42 L121.92,398.91 L122.28,398.4 L122.63,397.9 L122.99,397.4 L123.35,396.9 L123.7,396.41 L124.06,395.92 L124.41,395.43 L124.77,394.95 L125.13,394.47 L125.48,393.99 L125.84,393.52 L126.19,393.05 L126.55,392.58 L126.91,392.12 L127.26,391.66 L127.62,391.2 L127.97,390.75 L128.33,390.3 L128.69,389.85 L129.04,389.41 L129.4,388.97 L129.75,388.53 L130.11,388.1 L130.46,387.67 L130.82,387.24 L131.18,386.81 L131.53,386.39 L131.89,385.97 L132.24,385.55 L132.6,385.14 L134.02,383.52 L136.47,380.82 L138.92,378.24 L141.37,375.78 L143.82,373.43 L146.26,371.19 L148.71,369.04 L151.16,366.99 L153.61,365.02 L156.06,363.14 L158.51,361.33 L160.96,359.6 L163.41,357.95 L165.86,356.36 L168.31,354.84 L170.75,353.38 L173.2,351.97 L175.65,350.62 L178.1,349.33 L180.55,348.09 L183,346.89 L185.45,345.74 L187.9,344.64 L190.35,343.57 L192.8,342.55 L195.24,341.57 L197.69,340.62 L200.14,339.7 L202.59,338.82 L205.04,337.98 L207.49,337.16 L209.94,336.37 L212.39,335.61 L214.84,334.88 L217.29,334.17 L219.73,333.48 L222.18,332.82 L224.63,332.19 L227.08,331.57 L229.53,330.98 L231.98,330.4 L234.43,329.85 L236.88,329.31 L239.33,328.79 L241.78,328.29 L244.22,327.8 L246.67,327.33 L249.12,326.87 L251.57,326.43 L254.02,326 L256.47,325.59 L258.92,325.19 L261.37,324.8 L263.82,324.42 L266.27,324.06 L268.71,323.7 L271.16,323.36 L273.61,323.03 L276.06,322.7 L278.51,322.39 L280.96,322.09 L283.41,321.79 L285.86,321.5 L288.31,321.22 L290.76,320.95 L293.2,320.69 L295.65,320.43 L298.1,320.18 L300.55,319.94 L303,319.71" fill="none" stroke="#0530ff" stroke-width="5.4" stroke-linecap="round" stroke-linejoin="round"/>
<path d="M411.4,297.7 L412.3,399.1 L414.35,388.2 L414.21,406.95 L414.31,408.87 L414.42,410.71 L414.52,412.46 L414.63,414.15 L414.73,415.76 L414.83,417.3 L414.94,418.77 L415.04,420.18 L415.14,421.53 L415.25,422.83 L415.35,424.07 L415.45,425.25 L415.56,426.39 L415.66,427.48 L415.76,428.52 L415.87,429.52 L415.97,430.47 L416.08,431.39 L416.18,432.27 L416.28,433.11 L416.39,433.91 L416.49,434.69 L416.59,435.43 L416.7,436.14 L416.8,436.82 L416.9,437.48 L417.01,438.1 L417.11,438.71 L417.21,439.28 L417.32,439.84 L417.42,440.37 L417.53,440.88 L417.63,441.37 L417.73,441.84 L417.84,442.3 L417.94,442.73 L418.04,443.15 L418.15,443.55 L418.25,443.94 L418.35,444.31 L418.46,444.67 L418.56,445.01 L418.77,445.67 L418.98,446.27 L419.18,446.83 L419.39,447.35 L419.6,447.84 L419.8,448.29 L420.01,448.71 L420.22,449.1 L420.43,449.47 L420.63,449.82 L420.84,450.14 L421.05,450.45 L421.25,450.74 L421.56,451.14 L421.88,451.51 L422.19,451.85 L422.5,452.16 L422.81,452.46 L423.12,452.73 L423.43,452.99 L423.74,453.23 L424.05,453.46 L424.36,453.68 L424.67,453.89 L424.98,454.09 L425.29,454.28 L425.78,454.56 L426.14,454.76 L426.5,454.95 L426.85,455.13 L427.21,455.31 L427.56,455.48 L427.92,455.65 L428.28,455.81 L428.63,455.97 L428.99,456.13 L429.34,456.28 L429.7,456.43 L430.05,456.57 L430.41,456.72 L430.77,456.86 L431.12,456.99 L431.48,457.13 L431.83,457.26 L432.19,457.39 L432.55,457.52 L432.9,457.65 L433.26,457.78 L433.61,457.9 L433.97,458.02 L434.33,458.14 L434.68,458.26 L435.04,458.38 L435.39,458.49 L435.75,458.6 L436.11,458.72 L436.46,458.83 L436.82,458.93 L437.17,459.04 L437.53,459.15 L437.88,459.25 L438.24,459.35 L438.6,459.45 L438.95,459.55 L439.31,459.65 L439.66,459.75 L440.02,459.84 L440.38,459.94 L440.73,460.03 L441.09,460.12 L441.44,460.21 L441.8,460.3 L442.16,460.39 L442.51,460.47 L442.87,460.56 L443.22,460.64 L443.58,460.73 L443.93,460.81 L444.29,460.89 L444.65,460.97 L445,461.05 L445.36,461.12 L445.71,461.2 L446.07,461.27 L446.43,461.35 L446.78,461.42 L447.14,461.49 L447.49,461.56 L447.85,461.63 L448.21,461.7 L448.56,461.77 L448.92,461.83 L449.27,461.9 L449.63,461.96 L449.99,462.03 L450.34,462.09 L450.7,462.15 L451.05,462.21 L451.41,462.27 L451.76,462.33 L452.12,462.39 L452.48,462.45 L452.83,462.5 L453.19,462.56 L453.54,462.61 L453.9,462.67 L455.32,462.88 L457.77,463.21 L460.22,463.5 L462.67,463.77 L465.12,464.01 L467.56,464.22 L470.01,464.42 L472.46,464.59 L474.91,464.75 L477.36,464.89 L479.81,465.01 L482.26,465.12 L484.71,465.22 L487.16,465.31 L489.61,465.39 L492.05,465.46 L494.5,465.52 L496.95,465.58 L499.4,465.63 L501.85,465.68 L504.3,465.72 L506.75,465.75 L509.2,465.78 L511.65,465.81 L514.1,465.84 L516.54,465.86 L518.99,465.88 L521.44,465.9 L523.89,465.91 L526.34,465.93 L528.79,465.94 L531.24,465.95 L533.69,465.96 L536.14,465.97 L538.59,465.98 L541.03,465.98 L543.48,465.99 L545.93,466 L548.38,466 L550.83,466.01 L553.28,466.01 L555.73,466.01 L558.18,466.02 L560.63,466.02 L563.08,466.02 L565.52,466.02 L567.97,466.02 L570.42,466.03 L572.87,466.03 L575.32,466.03 L577.77,466.03 L580.22,466.03 L582.67,466.03 L585.12,466.03 L587.57,466.03 L590.01,466.03 L592.46,466.03 L594.91,466.04 L597.36,466.04 L599.81,466.04 L602.26,466.04 L604.71,466.04 L607.16,466.04 L609.61,466.04 L612.06,466.04 L614.5,466.04 L616.95,466.04 L619.4,466.04 L621.85,466.04 L624.3,466.04" fill="none" stroke="#000" stroke-width="5.4" stroke-linecap="round" stroke-linejoin="round"/>
<path d="M411.3,469.6 L411.33,462.6 L411.36,459.12 L411.39,457.17 L411.41,455.97 L411.44,455.15 L411.47,454.55 L411.5,454.08 L411.53,453.68 L411.58,453.02 L411.63,452.59 L411.67,452.18 L411.71,451.79 L411.75,451.42 L411.8,451.05 L411.84,450.69 L411.88,450.34 L411.92,449.99 L411.97,449.64 L412.05,448.94 L412.14,448.26 L412.22,447.59 L412.31,446.92 L412.39,446.25 L412.48,445.59 L412.56,444.94 L412.65,444.29 L412.73,443.65 L412.82,443.01 L412.9,442.38 L412.99,441.76 L413.07,441.13 L413.16,440.52 L413.25,439.91 L413.33,439.3 L413.42,438.7 L413.5,438.1 L413.59,437.51 L413.67,436.92 L413.76,436.33 L413.84,435.75 L413.93,435.18 L414.01,434.61 L414.1,434.04 L414.21,433.29 L414.31,432.62 L414.42,431.95 L414.52,431.28 L414.63,430.63 L414.73,429.97 L414.83,429.33 L414.94,428.69 L415.04,428.05 L415.14,427.42 L415.25,426.8 L415.35,426.18 L415.45,425.57 L415.56,424.96 L415.66,424.36 L415.76,423.76 L415.87,423.17 L415.97,422.58 L416.08,422 L416.18,421.42 L416.28,420.85 L416.39,420.28 L416.49,419.72 L416.59,419.16 L416.7,418.61 L416.8,418.06 L416.9,417.51 L417.01,416.97 L417.11,416.44 L417.21,415.91 L417.32,415.38 L417.42,414.86 L417.53,414.34 L417.63,413.83 L417.73,413.31 L417.84,412.81 L417.94,412.31 L418.04,411.81 L418.15,411.31 L418.25,410.82 L418.35,410.34 L418.46,409.85 L418.56,409.38 L418.66,408.9 L418.77,408.43 L418.87,407.96 L418.98,407.5 L419.08,407.03 L419.18,406.58 L419.29,406.12 L419.39,405.67 L419.49,405.22 L419.6,404.78 L419.7,404.34 L419.8,403.9 L419.91,403.47 L420.01,403.04 L420.11,402.61 L420.22,402.18 L420.32,401.76 L420.43,401.34 L420.53,400.93 L420.63,400.52 L420.74,400.11 L420.84,399.7 L420.94,399.3 L421.05,398.9 L421.15,398.5 L421.25,398.1 L421.36,397.71 L421.46,397.32 L421.56,396.93 L421.67,396.55 L421.77,396.17 L421.88,395.79 L421.98,395.41 L422.08,395.04 L422.19,394.67 L422.29,394.3 L422.39,393.93 L422.5,393.57 L422.6,393.21 L422.7,392.85 L422.81,392.49 L422.91,392.14 L423.01,391.79 L423.12,391.44 L423.22,391.09 L423.33,390.75 L423.43,390.4 L423.53,390.06 L423.64,389.73 L423.74,389.39 L423.95,388.73 L424.15,388.07 L424.36,387.42 L424.57,386.78 L424.78,386.15 L424.98,385.53 L425.19,384.91 L425.4,384.31 L425.78,383.19 L426.14,382.18 L426.5,381.2 L426.85,380.24 L427.21,379.3 L427.56,378.37 L427.92,377.47 L428.28,376.58 L428.63,375.71 L428.99,374.86 L429.34,374.02 L429.7,373.2 L430.05,372.4 L430.41,371.61 L430.77,370.83 L431.12,370.07 L431.48,369.32 L431.83,368.59 L432.19,367.87 L432.55,367.16 L432.9,366.46 L433.26,365.78 L433.61,365.11 L433.97,364.45 L434.33,363.8 L434.68,363.16 L435.04,362.54 L435.39,361.92 L435.75,361.32 L436.11,360.72 L436.46,360.13 L436.82,359.56 L437.17,358.99 L437.53,358.43 L437.88,357.88 L438.24,357.34 L438.6,356.81 L438.95,356.28 L439.31,355.77 L439.66,355.26 L440.02,354.76 L440.38,354.26 L440.73,353.78 L441.09,353.3 L441.44,352.83 L441.8,352.36 L442.16,351.9 L442.51,351.45 L442.87,351.01 L443.22,350.57 L443.58,350.14 L443.93,349.71 L444.29,349.29 L444.65,348.88 L445,348.47 L445.36,348.06 L445.71,347.67 L446.07,347.27 L446.43,346.89 L446.78,346.5 L447.14,346.13 L447.49,345.75 L447.85,345.39 L448.21,345.03 L448.56,344.67 L448.92,344.31 L449.27,343.97 L449.63,343.62 L449.99,343.28 L450.34,342.95 L450.7,342.61 L451.05,342.29 L451.41,341.96 L451.76,341.64 L452.12,341.33 L452.48,341.02 L452.83,340.71 L453.19,340.41 L453.54,340.11 L453.9,339.81 L455.32,338.66 L457.77,336.79 L460.22,335.07 L462.67,333.46 L465.12,331.97 L467.56,330.58 L470.01,329.28 L472.46,328.06 L474.91,326.91 L477.36,325.83 L479.81,324.82 L482.26,323.86 L484.71,322.95 L487.16,322.1 L489.61,321.29 L492.05,320.51 L494.5,319.78 L496.95,319.08 L499.4,318.42 L501.85,317.79 L504.3,317.18 L506.75,316.61 L509.2,316.05 L511.65,315.52 L514.1,315.02 L516.54,314.53 L518.99,314.07 L521.44,313.62 L523.89,313.19 L526.34,312.77 L528.79,312.37 L531.24,311.99 L533.69,311.62 L536.14,311.26 L538.59,310.92 L541.03,310.59 L543.48,310.26 L545.93,309.95 L548.38,309.65 L550.83,309.36 L553.28,309.08 L555.73,308.81 L558.18,308.54 L560.63,308.29 L563.08,308.04 L565.52,307.8 L567.97,307.56 L570.42,307.34 L572.87,307.12 L575.32,306.9 L577.77,306.69 L580.22,306.49 L582.67,306.29 L585.12,306.1 L587.57,305.91 L590.01,305.73 L592.46,305.55 L594.91,305.38 L597.36,305.21 L599.81,305.04 L602.26,304.88 L604.71,304.73 L607.16,304.57 L609.61,304.42 L612.06,304.28 L614.5,304.13 L616.95,304 L619.4,303.86 L621.85,303.73 L624.3,303.6" fill="none" stroke="#0530ff" stroke-width="5.4" stroke-linecap="round" stroke-linejoin="round"/>
<g fill="none" stroke="#000" stroke-width="4.0" stroke-linecap="round" stroke-linejoin="round">
<path d="M309,36 H302.9 V220"/>
<path d="M302.9,71.4 H309"/>
<path d="M302.9,106.8 H309"/>
<path d="M302.9,142.2 H309"/>
<path d="M302.9,177.6 H309"/>
<path d="M302.9,213 H309"/>
</g>
<g fill="none" stroke="#000" stroke-width="4.0" stroke-linecap="round" stroke-linejoin="round">
<path d="M630.3,36 H624.2 V220"/>
<path d="M624.2,71.4 H630.3"/>
<path d="M624.2,106.8 H630.3"/>
<path d="M624.2,142.2 H630.3"/>
<path d="M624.2,177.6 H630.3"/>
<path d="M624.2,213 H630.3"/>
</g>
<g fill="none" stroke="#000" stroke-width="4.0" stroke-linecap="round" stroke-linejoin="round">
<path d="M309,292.6 H302.9 V476.6"/>
<path d="M302.9,328 H309"/>
<path d="M302.9,363.4 H309"/>
<path d="M302.9,398.8 H309"/>
<path d="M302.9,434.2 H309"/>
<path d="M302.9,469.6 H309"/>
</g>
<g fill="none" stroke="#000" stroke-width="4.0" stroke-linecap="round" stroke-linejoin="round">
<path d="M630.3,292.6 H624.2 V476.6"/>
<path d="M624.2,328 H630.3"/>
<path d="M624.2,363.4 H630.3"/>
<path d="M624.2,398.8 H630.3"/>
<path d="M624.2,434.2 H630.3"/>
<path d="M624.2,469.6 H630.3"/>
</g>
<text transform="translate(13.9,246.75) rotate(-90)" text-anchor="middle" font-size="17.5" font-weight="bold" fill="#000">Total number of adult female mosquitoes</text>
<text transform="translate(681,245.9) rotate(-90)" text-anchor="middle" font-size="17.3" font-weight="bold" fill="#0a28ff">R frequency</text>
<text x="350.35" y="526.1" text-anchor="middle" font-size="17.3" font-weight="bold" fill="#000">Time in days</text>
</svg>
</body></html>
